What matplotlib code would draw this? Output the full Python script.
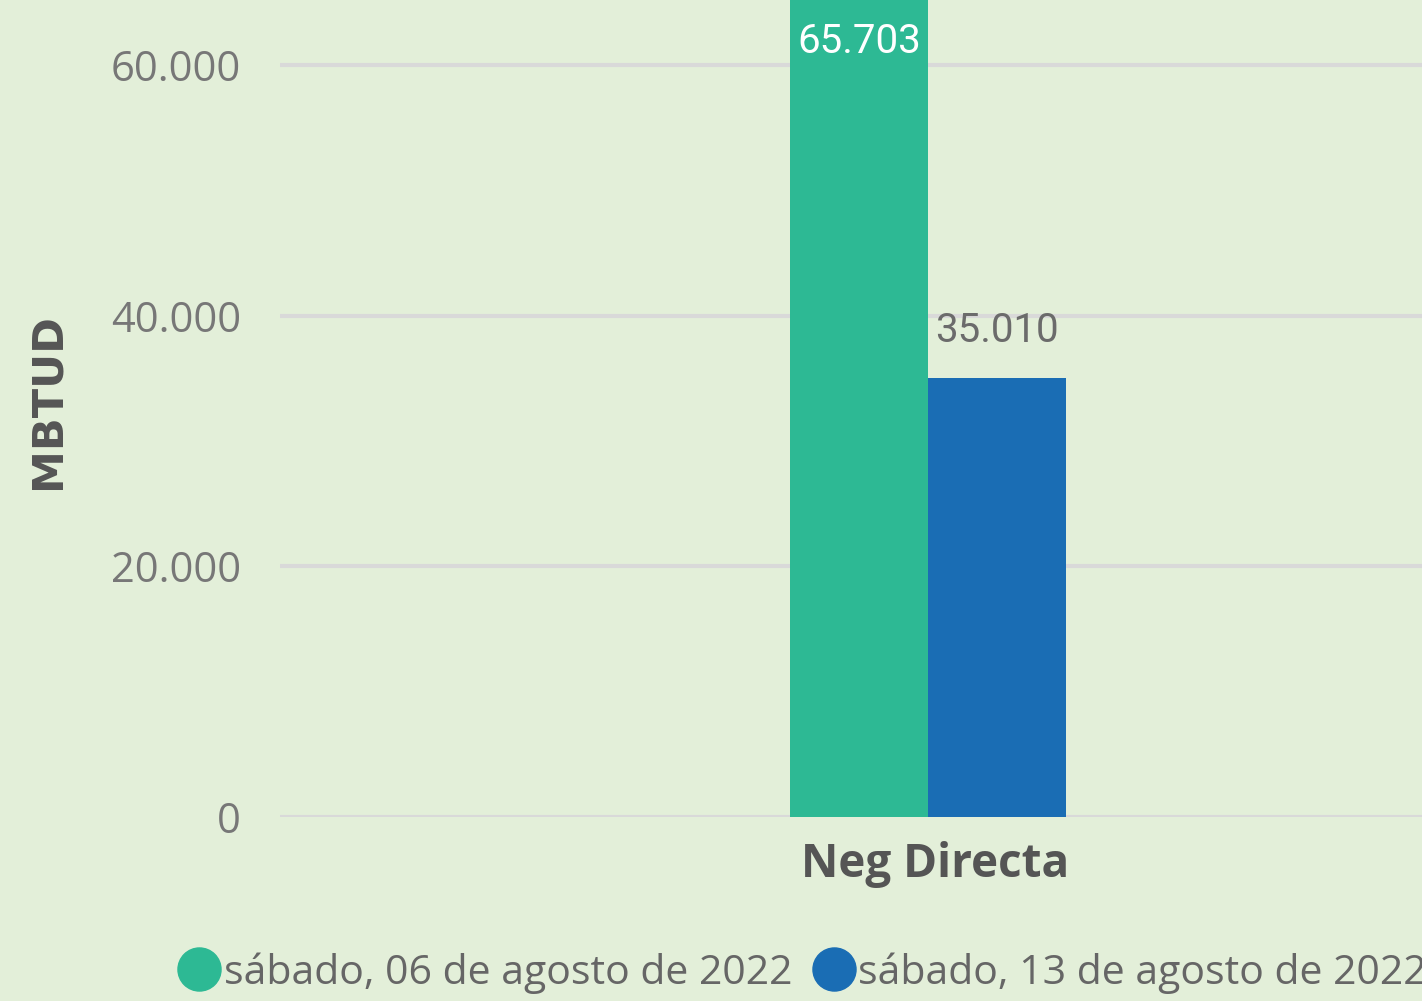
import matplotlib.pyplot as plt
import matplotlib.transforms as mtransforms
from matplotlib.lines import Line2D
import numpy as np

categories = ['Neg Directa']
series_names = ['sábado, 06 de agosto de 2022', 'sábado, 13 de agosto de 2022']
series_values = [[65703], [35010]]
colors = ['#2db994', '#1a6db4']
yticks = [0, 20000, 40000, 60000]
ytick_labels = ['0', '20.000', '40.000', '60.000']

bg = '#e3efd9'
fig = plt.figure(figsize=(14.22, 10.01), dpi=100, facecolor=bg)
ax = fig.add_axes([280 / 1422, 184 / 1001, 1 - 280 / 1422, 1 - 184 / 1001])
ax.set_facecolor(bg)

w = 0.2
x = np.arange(len(categories))
for i, (name, vals) in enumerate(zip(series_names, series_values)):
    pos = x + (i - 0.5) * w
    bars = ax.bar(pos, vals, width=w, color=colors[i], zorder=3, align='center')
    for b, v in zip(bars, vals):
        lbl = f'{v:,}'.replace(',', '.')
        # inside label for the tall bar (clipped at top), above for the other
        if i == 0:
            ax.text(b.get_x() + w / 2, 61900, lbl, ha='center', va='center',
                    color='white', fontsize=29, family='Roboto', zorder=4)
        else:
            ax.text(b.get_x() + w / 2, v + 3800, lbl, ha='center', va='center',
                    color='#6b6b6b', fontsize=29, family='Roboto', zorder=4)

ax.set_xlim(-0.939, 0.716)
ax.set_ylim(0, 65200)
ax.set_yticks(yticks)
ax.set_yticklabels(ytick_labels, fontsize=30, color='#777777', family='Open Sans')
ax.set_xticks(x)
ax.set_xticklabels(categories, fontsize=33, color='#555555', family='Open Sans', fontweight='bold')
ax.tick_params(axis='both', length=0)
ax.tick_params(axis='y', pad=28)
ax.tick_params(axis='x', pad=17)
ax.grid(axis='y', color='#d9d9d9', linewidth=3, zorder=0)
for s in ax.spines.values():
    s.set_visible(False)

shift = mtransforms.ScaledTranslation(7 / 100, 0, fig.dpi_scale_trans)
for t in ax.get_xticklabels():
    t.set_transform(t.get_transform() + shift)

fig.text(48 / 1422, 1 - 401 / 1001, 'MBTUD', rotation=90, ha='center', va='center',
         fontsize=31, fontweight='bold', color='#555555', family='DejaVu Sans')

handles = [Line2D([], [], marker='o', linestyle='none', markersize=31,
                  markerfacecolor=c, markeredgecolor=c) for c in colors]
fig.legend(handles, series_names, loc='center left',
           bbox_to_anchor=(179 / 1422, 1 - 973 / 1001), ncol=2, frameon=False,
           prop={'family': 'Open Sans', 'size': 29.5}, labelcolor='#666666',
           handlelength=1.0, handletextpad=0.1, columnspacing=0.5, borderpad=0,
           borderaxespad=0)

fig.savefig('out.png', dpi=100, facecolor=bg)
